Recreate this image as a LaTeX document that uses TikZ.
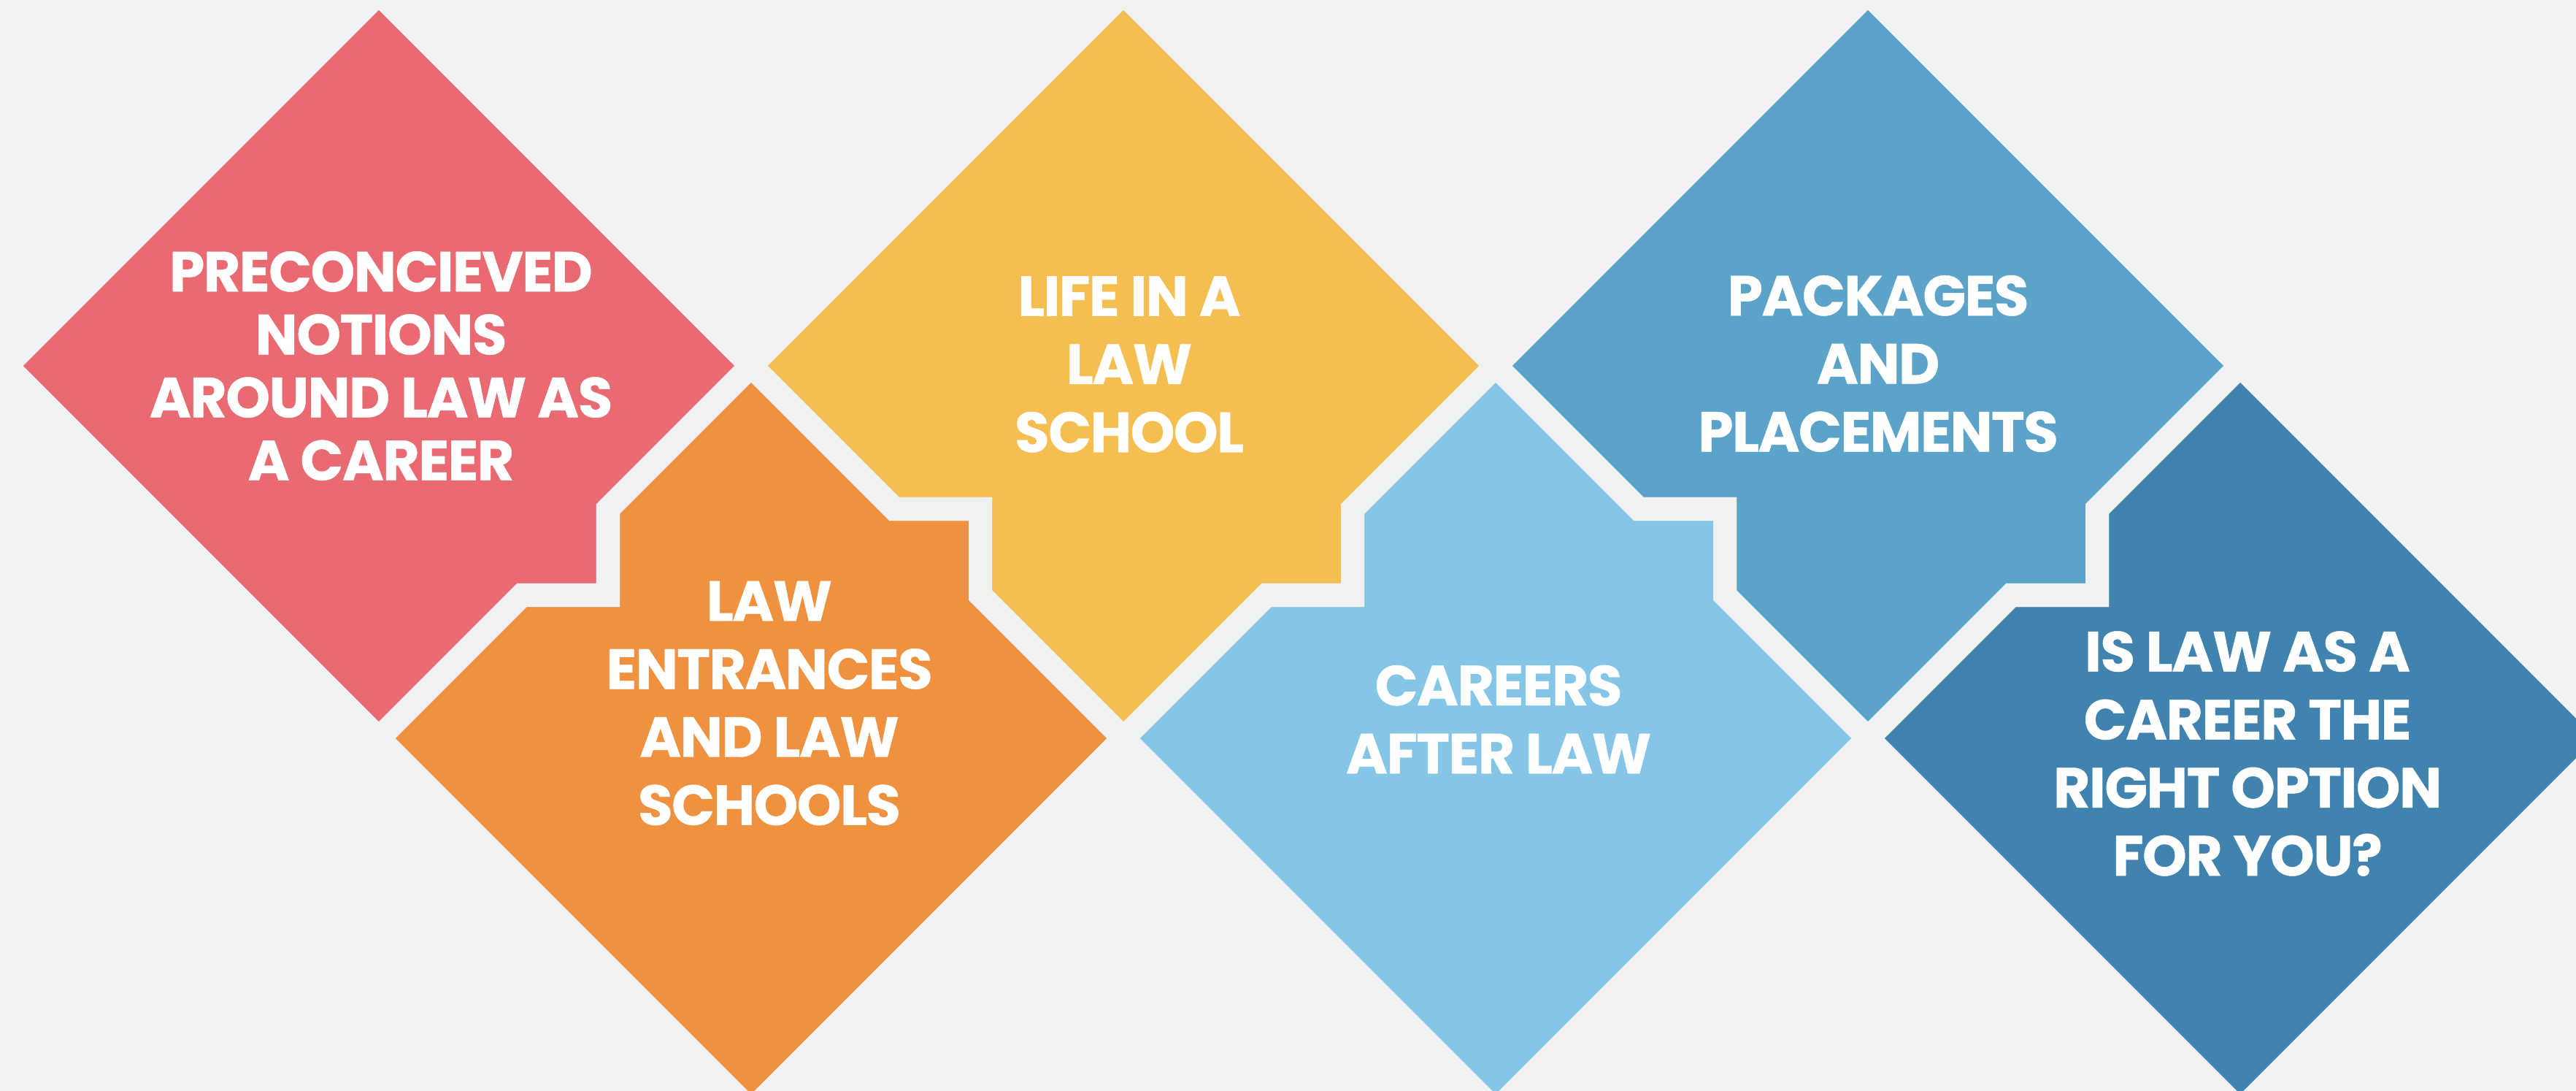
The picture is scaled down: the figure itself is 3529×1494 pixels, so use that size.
\documentclass[tikz,border=0pt]{standalone}
\usepackage{fontspec}
\setmainfont{Poppins}[BoldFeatures={LetterSpace=-2,FakeBold=0.6}]
\definecolor{bgc}{HTML}{F0F1F2}
\definecolor{cred}{HTML}{E96A70}
\definecolor{corange}{HTML}{EF913E}
\definecolor{cyellow}{HTML}{F4BE50}
\definecolor{clblue}{HTML}{85C6E6}
\definecolor{cblue}{HTML}{5CA3C9}
\definecolor{cdblue}{HTML}{4083AE}
\begin{document}
\begin{tikzpicture}[x=0.01cm,y=-0.01cm,
  gapline/.style={draw=bgc,line width=0.32cm,line join=miter},
  lbl/.style={text=white,align=center,font=\bfseries\fontsize{22}{26.5}\selectfont}]
\useasboundingbox (0,0) rectangle (3529,1494);
\fill[bgc] (0,0) rectangle (3529,1494);
\clip (0,0) rectangle (3529,1494);
% tiles
\def\tred{(519,-9) -- (1029,501) -- (833,697) -- (833,815) -- (715,815) -- (519,1011) -- (9,501) -- cycle}
\def\torange{(1029,501) -- (1225,697) -- (1343,697) -- (1343,815) -- (1539,1011) -- (1029,1521) -- (519,1011) -- (715,815) -- (833,815) -- (833,697) -- cycle}
\def\tyellow{(1539,-9) -- (2049,501) -- (1853,697) -- (1853,815) -- (1735,815) -- (1539,1011) -- (1343,815) -- (1343,697) -- (1225,697) -- (1029,501) -- cycle}
\def\tlblue{(2049,501) -- (2245,697) -- (2363,697) -- (2363,815) -- (2559,1011) -- (2049,1521) -- (1539,1011) -- (1735,815) -- (1853,815) -- (1853,697) -- cycle}
\def\tblue{(2559,-9) -- (3069,501) -- (2873,697) -- (2873,815) -- (2755,815) -- (2559,1011) -- (2363,815) -- (2363,697) -- (2245,697) -- (2049,501) -- cycle}
\def\tdblue{(3069,501) -- (3579,1011) -- (3069,1521) -- (2559,1011) -- (2755,815) -- (2873,815) -- (2873,697) -- cycle}
\fill[cred] \tred;
\fill[corange] \torange;
\fill[cyellow] \tyellow;
\fill[clblue] \tlblue;
\fill[cblue] \tblue;
\fill[cdblue] \tdblue;
\draw[gapline] \tred;
\draw[gapline] \torange;
\draw[gapline] \tyellow;
\draw[gapline] \tlblue;
\draw[gapline] \tblue;
\draw[gapline] \tdblue;
% labels
\node[lbl,font=\bfseries\fontsize{22}{24.5}\selectfont] (t1) at (522,501) {PRECONCIEVED\\NOTIONS\\AROUND LAW AS\\A CAREER};
\node[lbl] (t2) at (1054,963) {LAW\\ENTRANCES\\AND LAW\\SCHOOLS};
\node[lbl] (t3) at (1547,499) {LIFE IN A\\LAW\\SCHOOL};
\node[lbl] (t4) at (2053,985) {CAREERS\\AFTER LAW};
\node[lbl] (t5) at (2573,498) {PACKAGES\\AND\\PLACEMENTS};
\node[lbl] (t6) at (3079,1032) {IS LAW AS A\\CAREER THE\\RIGHT OPTION\\FOR YOU?};
\end{tikzpicture}
\end{document}
